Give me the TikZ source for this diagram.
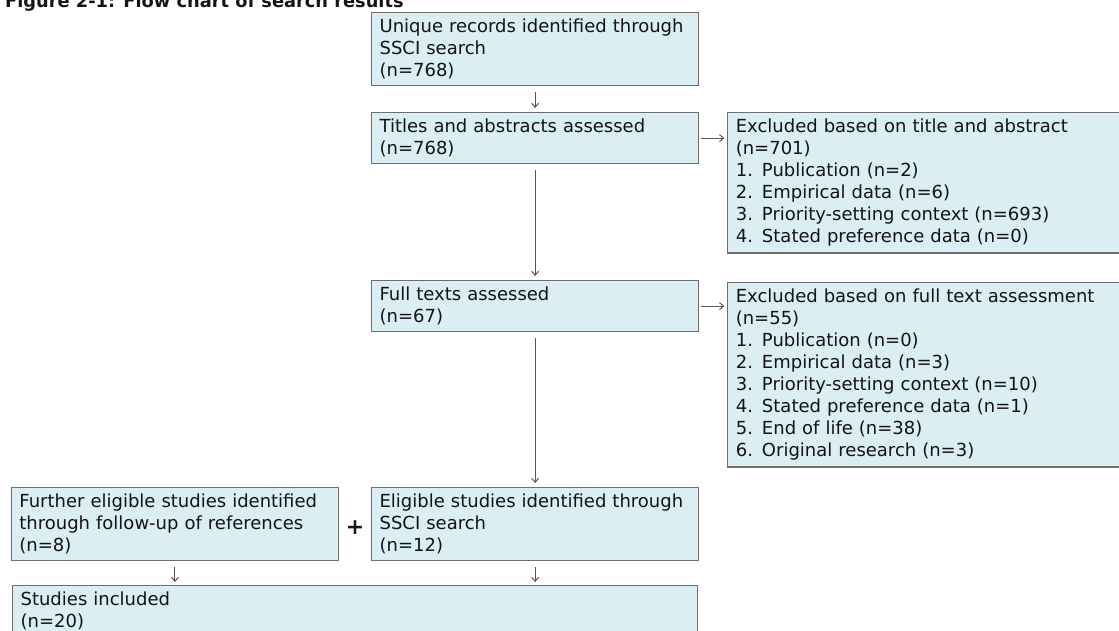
\documentclass[tikz,border=0pt]{standalone}
\usepackage{fontspec}
\setmainfont{DejaVu Sans}
\usetikzlibrary{arrows.meta,positioning,calc}
\definecolor{boxfill}{HTML}{DAEEF3}
\definecolor{boxline}{HTML}{6E6E6E}
\definecolor{arrowgray}{HTML}{555555}
\definecolor{inktext}{HTML}{141414}
\tikzset{
  stage/.style={
    draw=boxline,
    fill=boxfill,
    line width=1.2pt,
    rectangle,
    text=inktext,
    text width=311pt,
    inner xsep=8pt,
    inner ysep=6.5pt,
    align=left,
    font=\fontsize{18}{22}\selectfont,
    anchor=north west
  },
  excluded/.style={
    stage,
    text width=376pt
  },
  heading/.style={
    anchor=base west,
    inner sep=0pt,
    text=inktext,
    font=\bfseries\fontsize{17.8}{20}\selectfont
  },
  plus/.style={
    inner sep=0pt,
    text=inktext,
    font=\bfseries\fontsize{22}{22}\selectfont
  },
  flow/.style={
    -{Straight Barb[length=4pt,width=7pt]},
    arrowgray,
    line width=1pt,
    shorten <=6pt,
    shorten >=4pt
  }
}

\begin{document}
\begin{tikzpicture}[x=1pt,y=-1pt]
\useasboundingbox (0,0) rectangle (1119,630);

\node[heading] (caption) at (5,7) {Figure 2-1: Flow chart of search results};

\node[stage] (records) at (371,12) {Unique records identified through\\SSCI search\\(n=768)};
\node[stage] (screen) at (371,112) {Titles and abstracts assessed\\(n=768)};
\node[stage] (fulltext) at (371,280) {Full texts assessed\\(n=67)};
\node[stage] (eligible) at (371,487) {Eligible studies identified through\\SSCI search\\(n=12)};
\node[stage, left=32pt of eligible.north west, anchor=north east] (further) {Further eligible studies identified\\through follow-up of references\\(n=8)};
\node[stage, text width=669pt] (included) at (12,585) {Studies included\\(n=20)};

\node[excluded, right=28pt of screen.north east, anchor=north west] (exclscreen) {Excluded based on title and abstract\\(n=701)\\1. Publication (n=2)\\2. Empirical data (n=6)\\3. Priority-setting context (n=693)\\4. Stated preference data (n=0)};
\node[excluded, right=28pt of fulltext.north east, anchor=north west, yshift=-2pt] (exclfull) {Excluded based on full text assessment\\(n=55)\\1. Publication (n=0)\\2. Empirical data (n=3)\\3. Priority-setting context (n=10)\\4. Stated preference data (n=1)\\5. End of life (n=38)\\6. Original research (n=3)};

\node[plus] (plus) at ($(further.east)!0.5!(eligible.west)+(0,3)$) {+};

\draw[flow] (records) -- (screen);
\draw[flow] (screen) -- (fulltext);
\draw[flow] (fulltext) -- (eligible);
\draw[flow, shorten <=2pt, shorten >=3pt] (screen.east) -- (screen.east -| exclscreen.west);
\draw[flow, shorten <=2pt, shorten >=3pt] (fulltext.east) -- (fulltext.east -| exclfull.west);
\draw[flow, shorten >=3pt] (further) -- (further.south |- included.north);
\draw[flow, shorten >=3pt] (eligible) -- (eligible.south |- included.north);

\end{tikzpicture}
\end{document}
